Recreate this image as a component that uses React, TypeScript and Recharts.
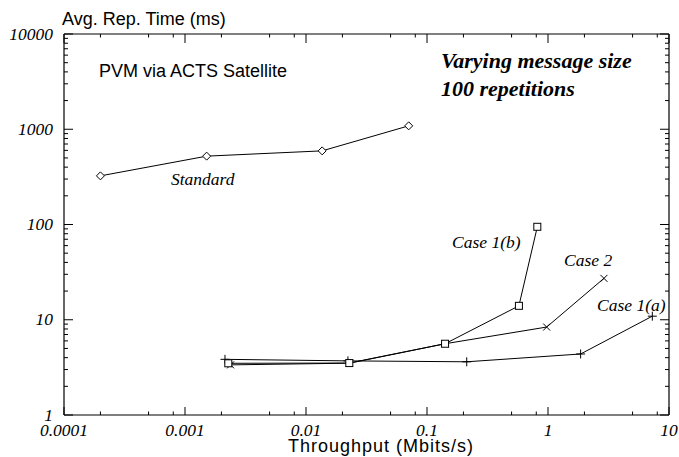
import React from 'react';
import { LineChart, Line, XAxis, YAxis } from 'recharts';

// ---- axis ticks ----
const xMajorTicks = [0.0001, 0.001, 0.01, 0.1, 1, 10];
const xTickLabels = ['0.0001', '0.001', '0.01', '0.1', '1', '10'];
const xMinorMultipliers = [2, 5, 8];
const yMajorTicks = [1, 10, 100, 1000, 10000];
const yTickLabels = ['1', '10', '100', '1000', '10000'];
const yMinorMultipliers = [2, 3, 4, 5, 6, 7, 8, 9];

// ---- series (throughput Mbits/s, avg rep time ms) ----
const standardX = [0.0002, 0.00151, 0.0136, 0.0706];
const standardY = [324, 522, 593, 1086];
const case1bX = [0.00228, 0.0228, 0.141, 0.575, 0.816];
const case1bY = [3.49, 3.51, 5.6, 14.0, 94.6];
const case2X = [0.00238, 0.0228, 0.141, 0.975, 2.9];
const case2Y = [3.36, 3.5, 5.6, 8.38, 27.2];
const case1aX = [0.00214, 0.0222, 0.213, 1.86, 7.28];
const case1aY = [3.84, 3.7, 3.62, 4.37, 10.9];

const zip = (xs: number[], ys: number[]) => xs.map((x, i) => ({ x, y: ys[i] }));
const standardData = zip(standardX, standardY);
const case1bData = zip(case1bX, case1bY);
const case2Data = zip(case2X, case2Y);
const case1aData = zip(case1aX, case1aY);

const withMinors = (majors: number[], mults: number[]) => {
  const out: number[] = [];
  majors.forEach((m, i) => {
    out.push(m);
    if (i < majors.length - 1) mults.forEach((k) => out.push(m * k));
  });
  return out;
};
const xTicks = withMinors(xMajorTicks, xMinorMultipliers);
const yTicks = withMinors(yMajorTicks, yMinorMultipliers);

const SANS = '"Liberation Sans", Arial, Helvetica, sans-serif';
const SERIF = '"Liberation Serif", "Times New Roman", Times, serif';

const isMajor = (v: number) => Math.abs(Math.log10(v) - Math.round(Math.log10(v))) < 1e-9;
const labelFor = (v: number, majors: number[], labels: string[]) => {
  const i = majors.findIndex((m) => Math.abs(m - v) / m < 1e-9);
  return i >= 0 ? labels[i] : '';
};

const BottomTick = (p: any) => {
  const { x, y, payload } = p;
  const v = payload.value;
  const major = isMajor(v);
  return (
    <g>
      <line x1={x} x2={x} y1={y} y2={y - (major ? 8 : 3.5)} stroke="#000" strokeWidth={1} />
      {major && (
        <text x={x} y={y + 21} textAnchor="middle" fontFamily={SERIF} fontStyle="italic" fontSize={17.5} fill="#000">
          {labelFor(v, xMajorTicks, xTickLabels)}
        </text>
      )}
    </g>
  );
};
const TopTick = (p: any) => {
  const { x, y, payload } = p;
  const major = isMajor(payload.value);
  return <line x1={x} x2={x} y1={y} y2={y + (major ? 9 : 3.5)} stroke="#000" strokeWidth={1} />;
};
const LeftTick = (p: any) => {
  const { x, y, payload } = p;
  const v = payload.value;
  const major = isMajor(v);
  return (
    <g>
      <line x1={x} x2={x + (major ? 9 : 4)} y1={y} y2={y} stroke="#000" strokeWidth={1} />
      {major && (
        <text x={x - 11} y={y + 5.5} textAnchor="end" fontFamily={SERIF} fontStyle="italic" fontSize={17.5} fill="#000">
          {labelFor(v, yMajorTicks, yTickLabels)}
        </text>
      )}
    </g>
  );
};
const RightTick = (p: any) => {
  const { x, y, payload } = p;
  const major = isMajor(payload.value);
  return <line x1={x} x2={x - (major ? 9 : 4)} y1={y} y2={y} stroke="#000" strokeWidth={1} />;
};

const Diamond = (p: any) => {
  const { cx, cy, index } = p;
  if (cx == null || cy == null) return <g key={index} />;
  const r = 4;
  return (
    <path key={index} d={`M${cx},${cy - r}L${cx + r},${cy}L${cx},${cy + r}L${cx - r},${cy}Z`} fill="#fff" stroke="#000" strokeWidth={1} />
  );
};
const Square = (p: any) => {
  const { cx, cy, index } = p;
  if (cx == null || cy == null) return <g key={index} />;
  return <rect key={index} x={cx - 3.5} y={cy - 3.5} width={7} height={7} fill="#fff" stroke="#000" strokeWidth={1} />;
};
const Cross = (p: any) => {
  const { cx, cy, index } = p;
  if (cx == null || cy == null) return <g key={index} />;
  const r = 3.5;
  return (
    <path key={index} d={`M${cx - r},${cy - r}L${cx + r},${cy + r}M${cx - r},${cy + r}L${cx + r},${cy - r}`} stroke="#000" strokeWidth={1} fill="none" />
  );
};
const Plus = (p: any) => {
  const { cx, cy, index } = p;
  if (cx == null || cy == null) return <g key={index} />;
  const r = 4.5;
  return <path key={index} d={`M${cx - r},${cy}L${cx + r},${cy}M${cx},${cy - r}L${cx},${cy + r}`} stroke="#000" strokeWidth={1} fill="none" />;
};

const W = 679;
const H = 457;

export default function App() {
  return (
    <div style={{ position: 'absolute', left: 0, top: 0, width: W, height: H, background: '#fff' }}>
      <LineChart width={W} height={H} margin={{ top: 30, right: 6, bottom: 12, left: 8 }}>
        <XAxis
          xAxisId="b"
          dataKey="x"
          type="number"
          scale="log"
          domain={[0.0001, 10]}
          allowDataOverflow
          ticks={xTicks}
          interval={0}
          height={30}
          tickSize={0}
          tickMargin={0}
          tickLine={false}
          tick={BottomTick}
          axisLine={{ stroke: '#000', strokeWidth: 1.2 }}
        />
        <XAxis
          xAxisId="t"
          orientation="top"
          dataKey="x"
          type="number"
          scale="log"
          domain={[0.0001, 10]}
          allowDataOverflow
          ticks={xTicks}
          interval={0}
          height={4}
          tickSize={0}
          tickMargin={0}
          tickLine={false}
          tick={TopTick}
          axisLine={{ stroke: '#000', strokeWidth: 1.2 }}
        />
        <YAxis
          yAxisId="l"
          dataKey="y"
          type="number"
          scale="log"
          domain={[1, 10000]}
          allowDataOverflow
          ticks={yTicks}
          interval={0}
          width={56}
          tickSize={0}
          tickMargin={0}
          tickLine={false}
          tick={LeftTick}
          axisLine={{ stroke: '#333', strokeWidth: 1.5 }}
        />
        <YAxis
          yAxisId="r"
          orientation="right"
          dataKey="y"
          type="number"
          scale="log"
          domain={[1, 10000]}
          allowDataOverflow
          ticks={yTicks}
          interval={0}
          width={4}
          tickSize={0}
          tickMargin={0}
          tickLine={false}
          tick={RightTick}
          axisLine={{ stroke: '#333', strokeWidth: 1.5 }}
        />
        <Line xAxisId="b" yAxisId="l" data={standardData} dataKey="y" stroke="#000" strokeWidth={1} dot={Diamond} activeDot={false} isAnimationActive={false} />
        <Line xAxisId="b" yAxisId="l" data={case1aData} dataKey="y" stroke="#000" strokeWidth={1} dot={Plus} activeDot={false} isAnimationActive={false} />
        <Line xAxisId="b" yAxisId="l" data={case2Data} dataKey="y" stroke="#000" strokeWidth={1} dot={Cross} activeDot={false} isAnimationActive={false} />
        <Line xAxisId="b" yAxisId="l" data={case1bData} dataKey="y" stroke="#000" strokeWidth={1} dot={Square} activeDot={false} isAnimationActive={false} />
      </LineChart>
      <svg width={W} height={H} style={{ position: 'absolute', left: 0, top: 0, pointerEvents: 'none' }}>
        <text x={62} y={25} fontFamily={SANS} fontSize={18} fill="#000">Avg. Rep. Time (ms)</text>
        <text x={381} y={452} textAnchor="middle" fontFamily={SANS} fontSize={18} letterSpacing={1} fill="#000">Throughput (Mbits/s)</text>
        <text x={99} y={77} fontFamily={SANS} fontSize={18} fill="#000">PVM via ACTS Satellite</text>
        <text x={441} y={68} fontFamily={SERIF} fontStyle="italic" fontWeight="bold" fontSize={22} fill="#000">Varying message size</text>
        <text x={441} y={96} fontFamily={SERIF} fontStyle="italic" fontWeight="bold" fontSize={22} fill="#000">100 repetitions</text>
        <text x={171} y={185} fontFamily={SERIF} fontStyle="italic" fontSize={17.5} fill="#000">Standard</text>
        <text x={452} y={248} fontFamily={SERIF} fontStyle="italic" fontSize={17.5} fill="#000">Case 1(b)</text>
        <text x={564} y={266} fontFamily={SERIF} fontStyle="italic" fontSize={17.5} fill="#000">Case 2</text>
        <text x={597} y={311} fontFamily={SERIF} fontStyle="italic" fontSize={17.5} fill="#000">Case 1(a)</text>
      </svg>
    </div>
  );
}
